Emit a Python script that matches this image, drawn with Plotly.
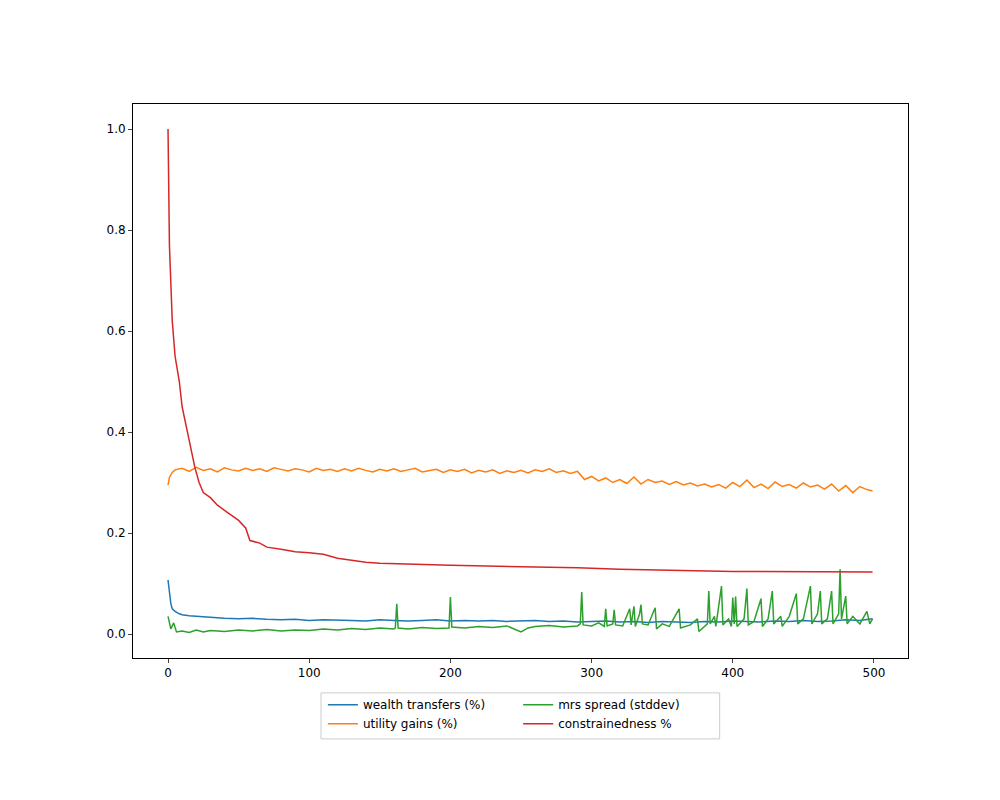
import plotly.graph_objects as go

# values
red_x = [0, 1, 3, 5, 8, 10, 13, 16, 19, 22, 25, 30, 35, 40, 45, 50, 55, 58, 65, 70, 80, 90, 100,
         110, 120, 130, 140, 150, 170, 200, 250, 290, 320, 360, 400, 499]
red_y = [1.0, 0.77, 0.62, 0.55, 0.50, 0.45, 0.41, 0.37, 0.33, 0.30, 0.28, 0.27, 0.255, 0.245, 0.235,
         0.225, 0.21, 0.185, 0.18, 0.172, 0.168, 0.163, 0.161, 0.158, 0.150, 0.146, 0.142, 0.140,
         0.138, 0.136, 0.133, 0.131, 0.128, 0.126, 0.124, 0.123]

orange_x = [0, 1, 3, 5] + list(range(10, 500, 5)) + [499]
orange_y = [0.295, 0.310, 0.320, 0.325,
            0.328, 0.322, 0.330, 0.324, 0.327, 0.321, 0.329, 0.325, 0.323, 0.328,
            0.324, 0.327, 0.322, 0.329, 0.326, 0.323, 0.327, 0.325, 0.321, 0.328,
            0.324, 0.326, 0.322, 0.327, 0.323, 0.328, 0.324, 0.321, 0.326, 0.323,
            0.327, 0.322, 0.325, 0.328, 0.321, 0.324, 0.326, 0.320, 0.325, 0.322,
            0.326, 0.319, 0.324, 0.321, 0.325, 0.318, 0.323, 0.320, 0.324, 0.319,
            0.325, 0.322, 0.327, 0.320, 0.323,
            0.318, 0.322, 0.306, 0.312, 0.303, 0.309, 0.300, 0.306, 0.298, 0.311,
            0.297, 0.306, 0.300, 0.303, 0.296, 0.302, 0.295, 0.299, 0.293, 0.297,
            0.291, 0.296, 0.289, 0.300, 0.292, 0.305, 0.290, 0.297, 0.288, 0.301,
            0.292, 0.296, 0.289, 0.299, 0.291, 0.295, 0.287, 0.297, 0.283, 0.294,
            0.280, 0.292, 0.286,
            0.283]

blue_x = [0, 1, 2, 3, 5, 8, 10, 15] + list(range(20, 500, 10)) + [499]
blue_y = [0.107, 0.075, 0.060, 0.050, 0.045, 0.040, 0.038, 0.036,
          0.035, 0.032, 0.031, 0.030, 0.031, 0.029, 0.028, 0.029, 0.027, 0.028,
          0.028, 0.027, 0.026, 0.028, 0.027, 0.026, 0.027, 0.028, 0.026, 0.027,
          0.026, 0.027, 0.025, 0.026, 0.027, 0.025, 0.026, 0.024, 0.025, 0.026,
          0.024, 0.025, 0.023, 0.025, 0.024, 0.023, 0.025, 0.024, 0.026, 0.025,
          0.024, 0.026, 0.025, 0.027, 0.025, 0.026, 0.028, 0.027,
          0.030]

green_pts = [(0, 0.035), (2, 0.010), (4, 0.022), (6, 0.004), (10, 0.006), (15, 0.003), (20, 0.008),
             (25, 0.004), (30, 0.007), (40, 0.005), (50, 0.008), (60, 0.006), (70, 0.009), (80, 0.006),
             (90, 0.008), (100, 0.007), (110, 0.010), (120, 0.008), (130, 0.011), (140, 0.009),
             (150, 0.012), (160, 0.010), (161, 0.012), (162, 0.060), (163, 0.012), (170, 0.010),
             (180, 0.013), (190, 0.011), (199, 0.012), (200, 0.073), (201, 0.014), (210, 0.012),
             (220, 0.015), (230, 0.013), (240, 0.016), (250, 0.004), (255, 0.012), (260, 0.015),
             (270, 0.017), (280, 0.014), (290, 0.016), (292, 0.020), (293, 0.083), (294, 0.018),
             (300, 0.016), (305, 0.022), (309, 0.015), (310, 0.050), (311, 0.016), (315, 0.020),
             (316, 0.048), (317, 0.018), (322, 0.016), (327, 0.050), (328, 0.018), (330, 0.055),
             (331, 0.015), (334, 0.040), (335, 0.058), (336, 0.020), (340, 0.018), (345, 0.052),
             (346, 0.010), (350, 0.020), (355, 0.015), (362, 0.050), (363, 0.012), (370, 0.018),
             (375, 0.030), (376, 0.005), (382, 0.020), (383, 0.085), (384, 0.020), (387, 0.035),
             (388, 0.015), (392, 0.095), (393, 0.018), (397, 0.030), (399, 0.015), (400, 0.072),
             (401, 0.020), (402, 0.074), (403, 0.015), (408, 0.030), (410, 0.090), (411, 0.018),
             (415, 0.025), (420, 0.070), (421, 0.015), (425, 0.030), (428, 0.085), (429, 0.020),
             (434, 0.035), (435, 0.015), (440, 0.035), (445, 0.080), (446, 0.020), (450, 0.030),
             (455, 0.095), (456, 0.020), (460, 0.040), (462, 0.085), (463, 0.020), (467, 0.030),
             (470, 0.085), (471, 0.020), (475, 0.040), (476, 0.128), (477, 0.030), (480, 0.075),
             (481, 0.020), (485, 0.035), (490, 0.020), (495, 0.045), (497, 0.020), (499, 0.030)]
green_x = [p[0] for p in green_pts]
green_y = [p[1] for p in green_pts]

fig = go.Figure()
fig.add_trace(go.Scatter(x=blue_x, y=blue_y, mode="lines", name="wealth transfers (%)",
                         line=dict(color="#1f77b4", width=1.5), legend="legend"))
fig.add_trace(go.Scatter(x=orange_x, y=orange_y, mode="lines", name="utility gains (%)",
                         line=dict(color="#ff7f0e", width=1.5), legend="legend"))
fig.add_trace(go.Scatter(x=green_x, y=green_y, mode="lines", name="mrs spread (stddev)",
                         line=dict(color="#2ca02c", width=1.5), legend="legend2"))
fig.add_trace(go.Scatter(x=red_x, y=red_y, mode="lines", name="constrainedness %",
                         line=dict(color="#d62728", width=1.5), legend="legend2"))

axis = dict(showline=True, linecolor="black", linewidth=1, mirror=True, ticks="outside",
            ticklen=4, showgrid=False, zeroline=False, tickfont=dict(size=12, color="black"))
leg = dict(orientation="v", yanchor="top", xanchor="left", bgcolor="rgba(0,0,0,0)",
           font=dict(size=12, color="black"), tracegroupgap=0)
fig.update_layout(
    width=1000, height=800, paper_bgcolor="white", plot_bgcolor="white",
    margin=dict(l=125, r=100, t=96, b=150),
    font=dict(family="DejaVu Sans"),
    xaxis=dict(axis, range=[-24.8, 524.1], tickvals=[0, 100, 200, 300, 400, 500]),
    yaxis=dict(axis, range=[-0.0475, 1.0495], tickvals=[0, 0.2, 0.4, 0.6, 0.8, 1.0],
               tickformat=".1f"),
    legend=dict(leg, x=0.245, y=-0.058),
    legend2=dict(leg, x=0.497, y=-0.058),
    shapes=[dict(type="rect", xref="paper", yref="paper", x0=0.2426, x1=0.757,
                 y0=-0.146, y1=-0.063, line=dict(color="#cccccc", width=1))],
)
fig.write_html("out.html")
